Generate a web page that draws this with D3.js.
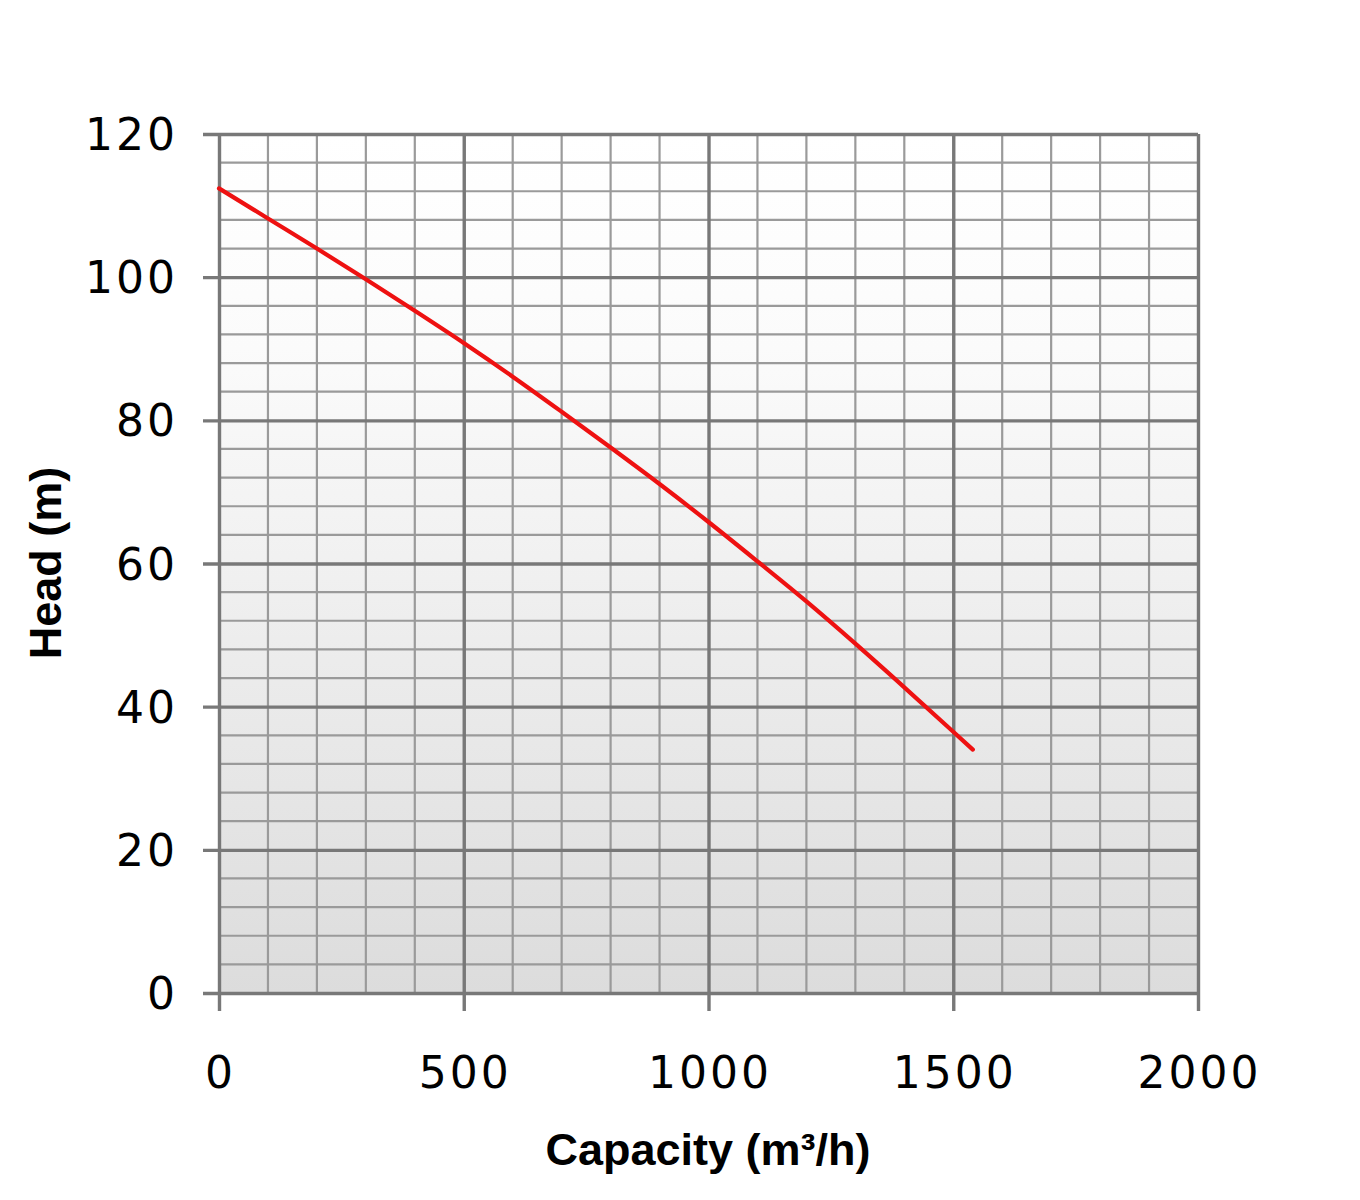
<!DOCTYPE html>
<html>
<head>
<meta charset="utf-8">
<script src="https://cdn.jsdelivr.net/npm/d3@7"></script>
<style>
  body { margin: 0; background: #fff; }
  svg { display: block; }
  .tick-label { font-family: "DejaVu Sans", Verdana, sans-serif; font-size: 44px; letter-spacing: 3px; fill: #000; }
  .title { font-family: "Liberation Sans", Arial, sans-serif; font-weight: bold; font-size: 45px; fill: #000; }
</style>
</head>
<body>
<div id="chart"></div>
<script>
var w = 1360, h = 1200;

// pump curve
var capacity = [0, 100, 200, 300, 400, 500, 600, 700, 800, 900, 1000, 1100, 1200, 1300, 1400, 1500, 1540];
var head = [112.4, 108.2, 104.0, 99.7, 95.3, 90.8, 86.1, 81.2, 76.2, 71.1, 65.8, 60.3, 54.7, 48.8, 42.7, 36.5, 34.0];

var xMajor = [0, 500, 1000, 1500, 2000];
var yMajor = [0, 20, 40, 60, 80, 100, 120];

var margin = {left: 219, right: 162, top: 134, bottom: 207};

var x = d3.scaleLinear().domain([0, 2000]).range([margin.left, w - margin.right]);
var y = d3.scaleLinear().domain([0, 120]).range([h - margin.bottom, margin.top]);

var svg = d3.select("#chart").append("svg")
    .attr("width", w)
    .attr("height", h);

var grad = svg.append("defs").append("linearGradient")
    .attr("id", "bg")
    .attr("x1", 0).attr("y1", 0).attr("x2", 0).attr("y2", 1);
grad.append("stop").attr("offset", "0%").attr("stop-color", "#ffffff");
grad.append("stop").attr("offset", "25%").attr("stop-color", "#fbfbfb");
grad.append("stop").attr("offset", "100%").attr("stop-color", "#dcdcdc");

svg.append("rect")
    .attr("x", x(0)).attr("y", y(120))
    .attr("width", x(2000) - x(0))
    .attr("height", y(0) - y(120))
    .attr("fill", "url(#bg)");

// minor grid
var xMinor = d3.range(0, 2001, 100).filter(function(d) { return d % 500; });
var yMinor = d3.range(0, 121, 4).filter(function(d) { return d % 20; });

svg.append("g").selectAll("line")
    .data(xMinor)
  .enter().append("line")
    .attr("x1", function(d) { return x(d); })
    .attr("x2", function(d) { return x(d); })
    .attr("y1", y(0)).attr("y2", y(120))
    .attr("stroke", "#9a9a9a").attr("stroke-width", 2.2);

svg.append("g").selectAll("line")
    .data(yMinor)
  .enter().append("line")
    .attr("y1", function(d) { return y(d); })
    .attr("y2", function(d) { return y(d); })
    .attr("x1", x(0)).attr("x2", x(2000))
    .attr("stroke", "#9a9a9a").attr("stroke-width", 2.2);

// major grid, ticks stick out past the frame
svg.append("g")
    .attr("transform", "translate(0," + y(120) + ")")
    .call(d3.axisBottom(x).tickValues(xMajor).tickSize(y(0) - y(120) + 18).tickFormat(""))
    .call(function(g) {
      g.select(".domain").remove();
      g.selectAll("line").attr("stroke", "#787878").attr("stroke-width", 3.4);
    });

svg.append("g")
    .attr("transform", "translate(" + x(2000) + ",0)")
    .call(d3.axisLeft(y).tickValues(yMajor).tickSize(x(2000) - x(0) + 16).tickFormat(""))
    .call(function(g) {
      g.select(".domain").remove();
      g.selectAll("line").attr("stroke", "#787878").attr("stroke-width", 3.4);
    });

// tick labels
svg.append("g").selectAll("text")
    .data(xMajor)
  .enter().append("text")
    .attr("class", "tick-label")
    .attr("x", function(d) { return x(d) + 1.5; })
    .attr("y", 1088)
    .attr("text-anchor", "middle")
    .text(function(d) { return d; });

svg.append("g").selectAll("text")
    .data(yMajor)
  .enter().append("text")
    .attr("class", "tick-label")
    .attr("x", 178)
    .attr("y", function(d) { return y(d) + 16; })
    .attr("text-anchor", "end")
    .text(function(d) { return d; });

// axis titles
svg.append("text")
    .attr("class", "title")
    .attr("x", 708).attr("y", 1165)
    .attr("text-anchor", "middle")
    .text("Capacity (m³/h)");

svg.append("text")
    .attr("class", "title")
    .attr("transform", "translate(61,563) rotate(-90)")
    .attr("text-anchor", "middle")
    .text("Head (m)");

// curve
var line = d3.line()
    .x(function(d, i) { return x(capacity[i]); })
    .y(function(d) { return y(d); })
    .curve(d3.curveMonotoneX);

svg.append("path")
    .datum(head)
    .attr("d", line)
    .attr("fill", "none")
    .attr("stroke", "#ee1111")
    .attr("stroke-width", 4.2)
    .attr("stroke-linecap", "round");
</script>
</body>
</html>
